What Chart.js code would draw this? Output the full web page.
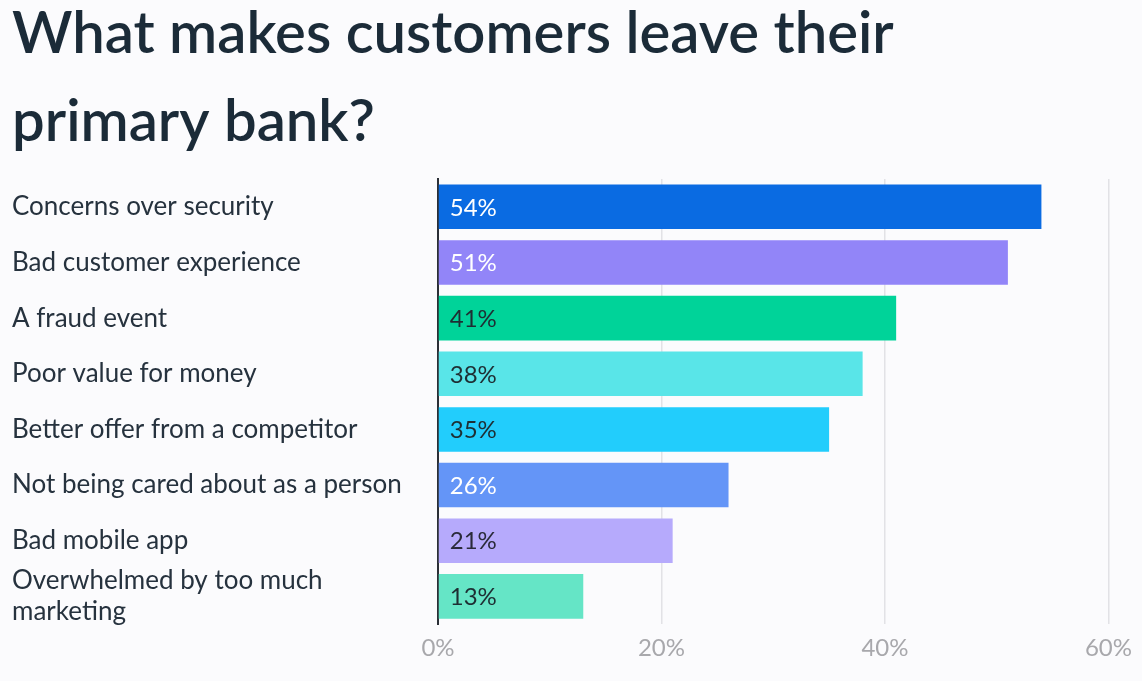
<!DOCTYPE html>
<html>
<head>
<meta charset="utf-8">
<script src="https://cdn.jsdelivr.net/npm/chart.js@4.4.1/dist/chart.umd.min.js"></script>
<style>
  html, body { margin: 0; padding: 0; background: #fbfbfd; }
  #wrap { width: 1142px; height: 681px; position: relative; }
</style>
</head>
<body>
<div id="wrap"><canvas id="bankChart"></canvas></div>
<script>
// Chart data
const titleLines = ['What makes customers leave their', 'primary bank?'];
const reasons = [
    'Concerns over security',
    'Bad customer experience',
    'A fraud event',
    'Poor value for money',
    'Better offer from a competitor',
    'Not being cared about as a person',
    'Bad mobile app',
    ['Overwhelmed by too much', 'marketing']
];
const shares = [54, 51, 41, 38, 35, 26, 21, 13];
const barColors = ['#0a6be2', '#9285f8', '#00d399', '#59e5e8', '#22cdfc', '#6495f7', '#b6aafc', '#65e5c6'];
const labelColors = ['#ffffff', '#ffffff', '#1e2e33', '#1e2e33', '#1e2e33', '#ffffff', '#2a2a3a', '#1e2e33'];
const tickValues = [0, 20, 40, 60];

const fontFamily = 'Lato, "Open Sans", sans-serif';

// Title drawn by hand so the two lines sit where the original has them
const bigTitle = {
    id: 'bigTitle',
    afterDraw(chart) {
        const ctx = chart.ctx;
        ctx.save();
        ctx.font = '600 58px ' + fontFamily;
        ctx.fillStyle = '#1b2b38';
        ctx.textAlign = 'left';
        ctx.textBaseline = 'alphabetic';
        ctx.fillText(titleLines[0], 12, 53);
        ctx.fillText(titleLines[1], 12, 141);
        ctx.restore();
    }
};

// Draws the percentage inside each bar, near its base
const insideLabels = {
    id: 'insideLabels',
    afterDatasetsDraw(chart) {
        const ctx = chart.ctx;
        const meta = chart.getDatasetMeta(0);
        ctx.save();
        ctx.font = '24px ' + fontFamily;
        ctx.textBaseline = 'middle';
        ctx.textAlign = 'left';
        meta.data.forEach((bar, i) => {
            ctx.fillStyle = labelColors[i];
            ctx.fillText(shares[i] + '%', bar.base + 11, bar.y + 1);
        });
        ctx.restore();
    }
};

function initBankChart() {
    const el = document.getElementById('bankChart');
    if (!el) return;

    new Chart(el, {
        type: 'bar',
        data: {
            labels: reasons,
            datasets: [{
                data: shares,
                backgroundColor: barColors,
                borderWidth: 0,
                barPercentage: 0.8,
                categoryPercentage: 1
            }]
        },
        options: {
            indexAxis: 'y',
            responsive: true,
            maintainAspectRatio: false,
            animation: false,
            layout: {
                padding: { left: 12, right: 28, top: 179, bottom: 8 }
            },
            plugins: {
                legend: { display: false },
                tooltip: { enabled: false },
                title: { display: false }
            },
            scales: {
                x: {
                    min: 0,
                    max: 60,
                    afterBuildTicks(axis) {
                        axis.ticks = tickValues.map(v => ({ value: v }));
                    },
                    grid: {
                        color: '#e2e2e6',
                        lineWidth: 1.5,
                        drawTicks: false
                    },
                    border: { display: false },
                    ticks: {
                        color: '#a8a8ac',
                        padding: 10,
                        font: { family: fontFamily, size: 24 },
                        callback: v => v + '%'
                    }
                },
                y: {
                    grid: { display: false, drawTicks: false },
                    border: { display: true, color: '#2b2f36', width: 2 },
                    afterFit(axis) {
                        axis.width = 426;
                    },
                    ticks: {
                        color: '#26323e',
                        autoSkip: false,
                        crossAlign: 'far',
                        padding: 0,
                        font: { family: fontFamily, size: 26, lineHeight: 1.2 }
                    }
                }
            }
        },
        plugins: [insideLabels, bigTitle]
    });
}

initBankChart();
</script>
</body>
</html>
